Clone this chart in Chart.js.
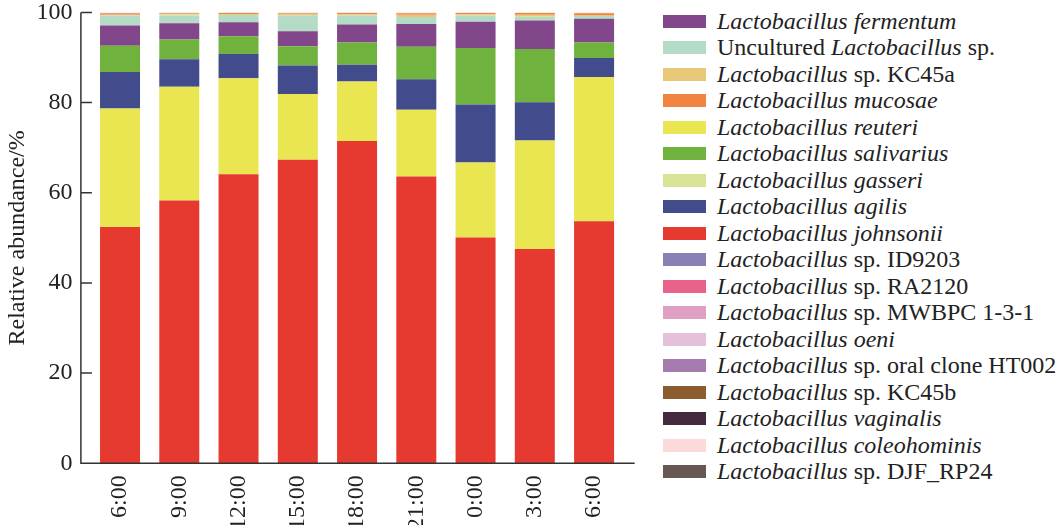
<!DOCTYPE html>
<html>
<head>
<meta charset="utf-8">
<script src="https://cdn.jsdelivr.net/npm/chart.js@4.4.0/dist/chart.umd.min.js"></script>
<style>
  html, body { margin: 0; padding: 0; background: #fff; overflow: hidden; }
  #wrap { position: absolute; left: 0; top: -20px; width: 660px; height: 580px; }
  #legend {
    position: absolute; left: 663px; top: 8px;
    font-family: "Liberation Serif", "Times New Roman", serif;
    font-size: 24px; color: #222;
  }
  .row { height: 26.5px; display: flex; align-items: center; white-space: nowrap; }
  .box { width: 43px; height: 13px; margin-right: 11px; flex: none; }
</style>
</head>
<body>
<div id="wrap"><canvas id="myChart" width="660" height="580"></canvas></div>
<div id="legend"></div>
<script>
// sampling times (x axis)
const timeLabels = ['6:00', '9:00', '12:00', '15:00', '18:00', '21:00', '0:00', '3:00', '6:00'];
const yTicks = [0, 20, 40, 60, 80, 100];

// relative abundance (%) per species, one value per time point
const johnsonii   = [52.4, 58.3, 64.1, 67.3, 71.5, 63.6, 50.1, 47.5, 53.7];
const reuteri     = [26.3, 25.2, 21.3, 14.6, 13.2, 14.8, 16.6, 24.1, 32.0];
const agilis      = [8.1, 6.1, 5.4, 6.3, 3.7, 6.8, 12.9, 8.5, 4.2];
const salivarius  = [5.8, 4.4, 3.9, 4.3, 4.9, 7.2, 12.5, 11.8, 3.4];
const fermentum   = [4.5, 3.6, 3.1, 3.3, 4.0, 5.0, 5.8, 6.3, 5.3];
const uncultured  = [2.2, 1.7, 1.6, 3.5, 2.0, 1.6, 1.4, 0.8, 0.6];
const gasseri     = [0, 0.2, 0, 0, 0, 0, 0, 0.2, 0];
const kc45a       = [0.2, 0.2, 0.2, 0.4, 0.3, 0.5, 0.3, 0.3, 0.2];
const mucosae     = [0.3, 0.2, 0.3, 0.2, 0.3, 0.3, 0.3, 0.4, 0.4];
const oeni        = [0.2, 0.1, 0.1, 0.1, 0.1, 0.2, 0.1, 0.1, 0.2];
const id9203      = [0, 0, 0, 0, 0, 0, 0, 0, 0];
const ra2120      = [0, 0, 0, 0, 0, 0, 0, 0, 0];
const mwbpc       = [0, 0, 0, 0, 0, 0, 0, 0, 0];
const ht002       = [0, 0, 0, 0, 0, 0, 0, 0, 0];
const kc45b       = [0, 0, 0, 0, 0, 0, 0, 0, 0];
const vaginalis   = [0, 0, 0, 0, 0, 0, 0, 0, 0];
const coleohominis = [0, 0, 0, 0, 0, 0, 0, 0, 0];
const djf         = [0, 0, 0, 0, 0, 0, 0, 0, 0];

// stack order, bottom to top
const species = [
  ['Lactobacillus johnsonii', johnsonii, '#e63a31'],
  ['Lactobacillus reuteri', reuteri, '#e9e651'],
  ['Lactobacillus agilis', agilis, '#424b8c'],
  ['Lactobacillus salivarius', salivarius, '#6fb33e'],
  ['Lactobacillus fermentum', fermentum, '#82468a'],
  ['Uncultured Lactobacillus sp.', uncultured, '#b3dbc5'],
  ['Lactobacillus gasseri', gasseri, '#d9e396'],
  ['Lactobacillus sp. KC45a', kc45a, '#e7c878'],
  ['Lactobacillus mucosae', mucosae, '#f08440'],
  ['Lactobacillus oeni', oeni, '#e4c0da'],
  ['Lactobacillus sp. ID9203', id9203, '#8a80b5'],
  ['Lactobacillus sp. RA2120', ra2120, '#e8638a'],
  ['Lactobacillus sp. MWBPC 1-3-1', mwbpc, '#dfa0c3'],
  ['Lactobacillus sp. oral clone HT002', ht002, '#a57bb0'],
  ['Lactobacillus sp. KC45b', kc45b, '#8a5c2e'],
  ['Lactobacillus vaginalis', vaginalis, '#45293e'],
  ['Lactobacillus coleohominis', coleohominis, '#fcdada'],
  ['Lactobacillus sp. DJF_RP24', djf, '#675853']
];

// legend order, top to bottom
const legendOrder = [
  'Lactobacillus fermentum', 'Uncultured Lactobacillus sp.', 'Lactobacillus sp. KC45a',
  'Lactobacillus mucosae', 'Lactobacillus reuteri', 'Lactobacillus salivarius',
  'Lactobacillus gasseri', 'Lactobacillus agilis', 'Lactobacillus johnsonii',
  'Lactobacillus sp. ID9203', 'Lactobacillus sp. RA2120', 'Lactobacillus sp. MWBPC 1-3-1',
  'Lactobacillus oeni', 'Lactobacillus sp. oral clone HT002', 'Lactobacillus sp. KC45b',
  'Lactobacillus vaginalis', 'Lactobacillus coleohominis', 'Lactobacillus sp. DJF_RP24'
];

const serif = "'Liberation Serif', 'Times New Roman', serif";

// axis lines drawn by hand: the y axis sits a little left of the first bar
const axisLines = {
  id: 'axisLines',
  afterDraw(chart) {
    const ctx = chart.ctx;
    const a = chart.chartArea;
    const y = chart.scales.y;
    const x0 = a.left - 9.5;
    ctx.save();
    ctx.strokeStyle = '#333';
    ctx.lineWidth = 1.5;
    ctx.beginPath();
    ctx.moveTo(x0, a.top);
    ctx.lineTo(x0, a.bottom);
    ctx.lineTo(a.right + 11, a.bottom);
    yTicks.forEach(v => {
      const py = y.getPixelForValue(v);
      ctx.moveTo(x0, py);
      ctx.lineTo(x0 + 11, py);
    });
    ctx.stroke();
    ctx.restore();
  }
};

let ctx = document.querySelector('#myChart').getContext('2d');

let abundanceChart = new Chart(ctx, {
  type: 'bar',
  data: {
    labels: timeLabels,
    datasets: species.map(s => ({
      label: s[0],
      data: s[1],
      backgroundColor: s[2],
      borderWidth: 0
    }))
  },
  options: {
    responsive: false,
    animation: false,
    barPercentage: 0.675,
    categoryPercentage: 1,
    layout: { padding: { left: 0, right: 36.3, top: 13, bottom: 0 } },
    plugins: {
      legend: { display: false },
      tooltip: { enabled: false }
    },
    scales: {
      x: {
        stacked: true,
        grid: { display: false, drawTicks: false },
        border: { display: false },
        ticks: {
          autoSkip: false,
          minRotation: 90,
          maxRotation: 90,
          padding: 12,
          color: '#222',
          font: { family: serif, size: 24 }
        },
        afterFit: scale => { scale.height = 96.7; }
      },
      y: {
        stacked: true,
        min: 0,
        max: 100,
        grid: { display: false, drawTicks: false },
        border: { display: false },
        ticks: {
          stepSize: 20,
          padding: 18,
          color: '#222',
          font: { family: serif, size: 24 }
        },
        title: {
          display: true,
          text: 'Relative abundance/%',
          color: '#222',
          font: { family: serif, size: 24 },
          padding: { top: 3, bottom: 0 }
        },
        afterFit: scale => { scale.width = 90.4; }
      }
    }
  },
  plugins: [axisLines]
});

// html legend, genus and species names in italics
function legendText(name) {
  if (name.indexOf(' sp.') < 0) return '<i>' + name + '</i>';
  const parts = name.split('Lactobacillus');
  return parts[0] + '<i>Lactobacillus</i>' + parts[1];
}

const colourOf = {};
species.forEach(s => { colourOf[s[0]] = s[2]; });

document.querySelector('#legend').innerHTML = legendOrder.map(n =>
  '<div class="row"><span class="box" style="background:' + colourOf[n] + '"></span>' +
  '<span>' + legendText(n) + '</span></div>'
).join('');
</script>
</body>
</html>
